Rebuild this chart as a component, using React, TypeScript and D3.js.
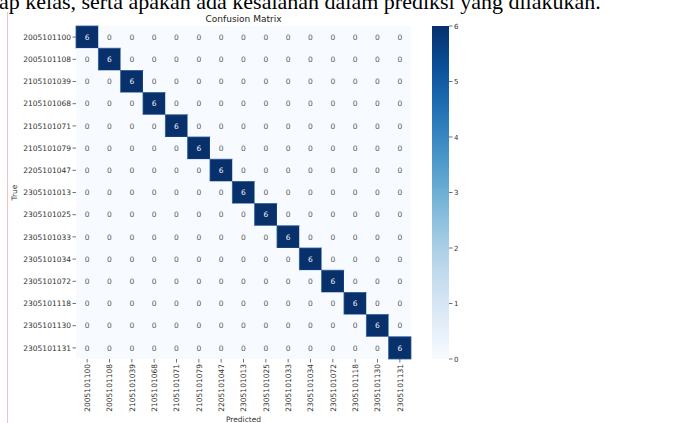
import React from "react";
import * as d3 from "d3";

const classes = [
  "2005101100", "2005101108", "2105101039", "2105101068", "2105101071",
  "2105101079", "2205101047", "2305101013", "2305101025", "2305101033",
  "2305101034", "2305101072", "2305101118", "2305101130", "2305101131",
];
// confusion matrix rows (true) x cols (predicted)
const matrix: number[][] = [
  [6, 0, 0, 0, 0, 0, 0, 0, 0, 0, 0, 0, 0, 0, 0],
  [0, 6, 0, 0, 0, 0, 0, 0, 0, 0, 0, 0, 0, 0, 0],
  [0, 0, 6, 0, 0, 0, 0, 0, 0, 0, 0, 0, 0, 0, 0],
  [0, 0, 0, 6, 0, 0, 0, 0, 0, 0, 0, 0, 0, 0, 0],
  [0, 0, 0, 0, 6, 0, 0, 0, 0, 0, 0, 0, 0, 0, 0],
  [0, 0, 0, 0, 0, 6, 0, 0, 0, 0, 0, 0, 0, 0, 0],
  [0, 0, 0, 0, 0, 0, 6, 0, 0, 0, 0, 0, 0, 0, 0],
  [0, 0, 0, 0, 0, 0, 0, 6, 0, 0, 0, 0, 0, 0, 0],
  [0, 0, 0, 0, 0, 0, 0, 0, 6, 0, 0, 0, 0, 0, 0],
  [0, 0, 0, 0, 0, 0, 0, 0, 0, 6, 0, 0, 0, 0, 0],
  [0, 0, 0, 0, 0, 0, 0, 0, 0, 0, 6, 0, 0, 0, 0],
  [0, 0, 0, 0, 0, 0, 0, 0, 0, 0, 0, 6, 0, 0, 0],
  [0, 0, 0, 0, 0, 0, 0, 0, 0, 0, 0, 0, 6, 0, 0],
  [0, 0, 0, 0, 0, 0, 0, 0, 0, 0, 0, 0, 0, 6, 0],
  [0, 0, 0, 0, 0, 0, 0, 0, 0, 0, 0, 0, 0, 0, 6],
];
const colorbarTicks = [0, 1, 2, 3, 4, 5, 6];
const titleText = "Confusion Matrix";
const xLabel = "Predicted";
const yLabel = "True";
const headerText = "ap kelas, serta apakah ada kesalahan dalam prediksi yang dilakukan.";

const W = 676;
const H = 423;
const left = 76, right = 411, top = 26, bottom = 359;
const cbX0 = 432, cbX1 = 449;
const font = "DejaVu Sans, sans-serif";
const txt = "#333";

export default function App() {
  const x = d3.scaleBand<string>().domain(classes).range([left, right]);
  const y = d3.scaleBand<string>().domain(classes).range([top, bottom]);
  const maxV = d3.max(matrix.flat()) as number;
  const color = d3.scaleSequential(d3.interpolateBlues).domain([0, maxV]);
  const cbY = d3.scaleLinear().domain([0, maxV]).range([bottom, top]);
  const stops = d3.range(0, 1.0001, 0.05);

  return (
    <svg
      width={W}
      height={H}
      style={{ position: "absolute", left: 0, top: 0, background: "#fff" }}
    >
      <defs>
        <linearGradient id="cbgrad" x1="0" y1="1" x2="0" y2="0">
          {stops.map((s) => (
            <stop key={s} offset={s} stopColor={color(s * maxV)} />
          ))}
        </linearGradient>
      </defs>
      <rect x={0} y={0} width={W} height={H} fill="#fff" />
      <text
        x={-1}
        y={9}
        fontFamily="Liberation Serif, Times New Roman, serif"
        fontSize={22}
        fill="#000"
      >
        {headerText}
      </text>
      <line x1={7.5} x2={7.5} y1={12} y2={H} stroke="#f2c4c8" strokeWidth={1} />

      <text
        x={(left + right) / 2}
        y={22}
        textAnchor="middle"
        fontFamily={font}
        fontSize={9}
        fill="#222"
      >
        {titleText}
      </text>

      {matrix.map((row, i) =>
        row.map((v, j) => {
          const cx = x(classes[j])!;
          const cy = y(classes[i])!;
          return (
            <g key={`${i}-${j}`}>
              <rect
                x={cx}
                y={cy}
                width={x.bandwidth()}
                height={y.bandwidth()}
                fill={color(v)}
                stroke={v > 0 ? "#2c5d98" : "none"}
                strokeWidth={v > 0 ? 0.8 : 0}
              />
              <text
                x={cx + x.bandwidth() / 2}
                y={cy + y.bandwidth() / 2}
                dy="0.36em"
                textAnchor="middle"
                fontFamily={font}
                fontSize={7.5}
                fill={v > maxV / 2 ? "#eef3fa" : "#555"}
              >
                {v}
              </text>
            </g>
          );
        })
      )}

      {classes.map((c) => {
        const cy = y(c)! + y.bandwidth() / 2;
        return (
          <g key={"y" + c}>
            <line x1={left - 3.5} x2={left} y1={cy} y2={cy} stroke={txt} strokeWidth={0.7} />
            <text
              x={left - 5}
              y={cy}
              dy="0.36em"
              textAnchor="end"
              fontFamily={font}
              fontSize={7.5}
              fill={txt}
            >
              {c}
            </text>
          </g>
        );
      })}

      {classes.map((c) => {
        const cx = x(c)! + x.bandwidth() / 2;
        return (
          <g key={"x" + c}>
            <line x1={cx} x2={cx} y1={bottom} y2={bottom + 3.5} stroke={txt} strokeWidth={0.7} />
            <text
              transform={`translate(${cx},${bottom + 5}) rotate(-90)`}
              dy="0.36em"
              textAnchor="end"
              fontFamily={font}
              fontSize={7.5}
              fill={txt}
            >
              {c}
            </text>
          </g>
        );
      })}

      <text
        x={(left + right) / 2}
        y={422}
        textAnchor="middle"
        fontFamily={font}
        fontSize={7.5}
        fill={txt}
      >
        {xLabel}
      </text>
      <text
        transform={`translate(17,${(top + bottom) / 2}) rotate(-90)`}
        textAnchor="middle"
        fontFamily={font}
        fontSize={7.5}
        fill={txt}
      >
        {yLabel}
      </text>

      <rect x={cbX0} y={top} width={cbX1 - cbX0} height={bottom - top} fill="url(#cbgrad)" />
      {colorbarTicks.map((t) => (
        <g key={"cb" + t}>
          <line x1={cbX1} x2={cbX1 + 3.5} y1={cbY(t)} y2={cbY(t)} stroke={txt} strokeWidth={0.7} />
          <text
            x={cbX1 + 5}
            y={cbY(t)}
            dy="0.36em"
            fontFamily={font}
            fontSize={7}
            fill={txt}
          >
            {t}
          </text>
        </g>
      ))}
    </svg>
  );
}
